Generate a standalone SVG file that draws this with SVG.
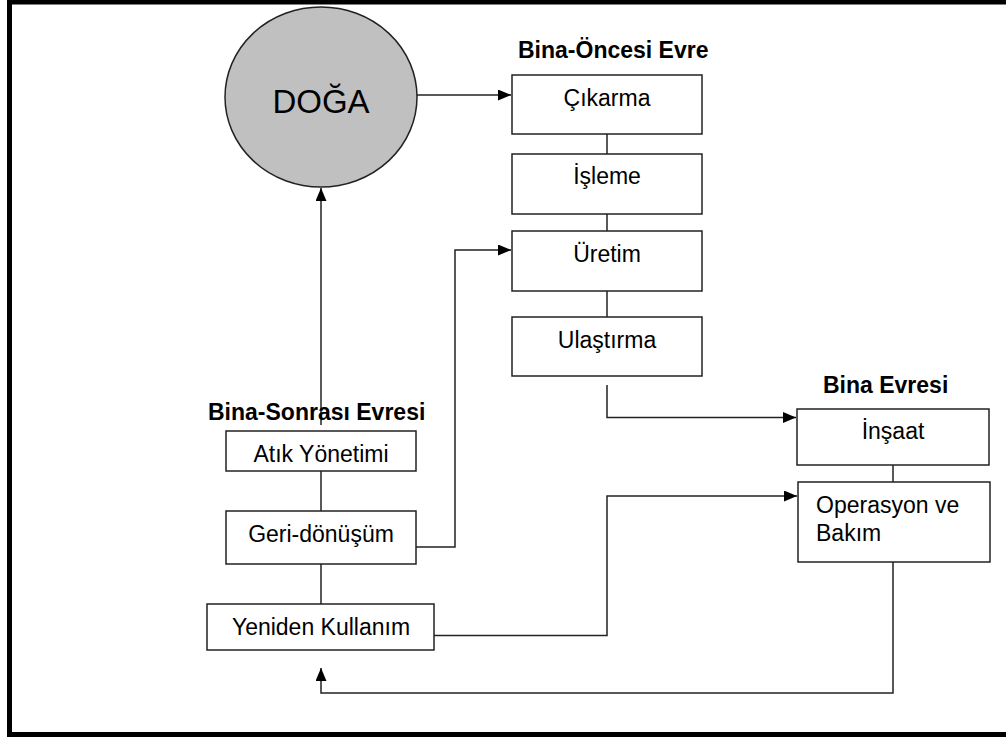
<svg xmlns="http://www.w3.org/2000/svg" width="1006" height="737" viewBox="0 0 1006 737">
<style>
.box{fill:#fff;stroke:#222;stroke-width:1.5}
.t{font-family:"Liberation Sans",Arial,sans-serif;font-size:23px;fill:#000}
.h{font-family:"Liberation Sans",Arial,sans-serif;font-size:23px;font-weight:bold;fill:#000}
.c{fill:none;stroke:#222;stroke-width:1.5}
</style>
<defs>
<marker id="ah" markerWidth="13" markerHeight="11" refX="13" refY="5.5" orient="auto" markerUnits="userSpaceOnUse">
<path d="M0,0 L13,5.5 L0,11 Z" fill="#000"/>
</marker>
</defs>
<rect x="0" y="0" width="1006" height="737" fill="#fff"/>
<g id="frame" fill="#000">
<rect x="7" y="0" width="999" height="4.5"/>
<rect x="7" y="0" width="5" height="737"/>
<rect x="7" y="732" width="999" height="5"/>
</g>
<g id="connectors">
<path class="c" d="M417,95 H511" marker-end="url(#ah)"/>
<path class="c" d="M607,134 V154"/>
<path class="c" d="M607,214 V231"/>
<path class="c" d="M607,291 V317"/>
<path class="c" d="M607,385 V417.5 H796" marker-end="url(#ah)"/>
<path class="c" d="M893,465 V482"/>
<path class="c" d="M321,425 V188" marker-end="url(#ah)"/>
<path class="c" d="M321,471 V511"/>
<path class="c" d="M321,564 V604"/>
<path class="c" d="M416,547 H455 V250 H511" marker-end="url(#ah)"/>
<path class="c" d="M434,635.5 H607 V496 H797" marker-end="url(#ah)"/>
<path class="c" d="M893,562 V693 H321 V668" marker-end="url(#ah)"/>
</g>
<g id="doga">
<ellipse cx="321" cy="97" rx="96" ry="90" fill="#c0c0c0" stroke="#222" stroke-width="1.5"/>
<text class="t" x="321" y="113" text-anchor="middle" style="font-size:33px">DOĞA</text>
</g>
<g id="heading-once"><text class="h" x="518" y="58">Bina-Öncesi Evre</text></g>
<g id="cikarma"><rect class="box" x="512" y="75" width="190" height="59"/><text class="t" x="607" y="106" text-anchor="middle">Çıkarma</text></g>
<g id="isleme"><rect class="box" x="512" y="154" width="190" height="60"/><text class="t" x="607" y="184" text-anchor="middle">İşleme</text></g>
<g id="uretim"><rect class="box" x="512" y="231" width="190" height="60"/><text class="t" x="607" y="261.5" text-anchor="middle">Üretim</text></g>
<g id="ulastirma"><rect class="box" x="512" y="317" width="190" height="59"/><text class="t" x="607" y="347.5" text-anchor="middle">Ulaştırma</text></g>
<g id="heading-bina"><text class="h" x="823" y="393">Bina Evresi</text></g>
<g id="insaat"><rect class="box" x="797" y="409" width="192" height="56"/><text class="t" x="893" y="439" text-anchor="middle">İnşaat</text></g>
<g id="operasyon"><rect class="box" x="798" y="482" width="192" height="80"/><text class="t" x="816" y="513"><tspan x="816">Operasyon ve</tspan><tspan x="816" y="540.5">Bakım</tspan></text></g>
<g id="heading-sonra"><text class="h" x="208" y="420">Bina-Sonrası Evresi</text></g>
<g id="atik"><rect class="box" x="226" y="431" width="190" height="40"/><text class="t" x="321" y="461.5" text-anchor="middle">Atık Yönetimi</text></g>
<g id="geri"><rect class="box" x="226" y="511" width="190" height="53"/><text class="t" x="321" y="541.5" text-anchor="middle">Geri-dönüşüm</text></g>
<g id="yeniden"><rect class="box" x="207" y="604" width="227" height="46"/><text class="t" x="321" y="635" text-anchor="middle">Yeniden Kullanım</text></g>
</svg>
